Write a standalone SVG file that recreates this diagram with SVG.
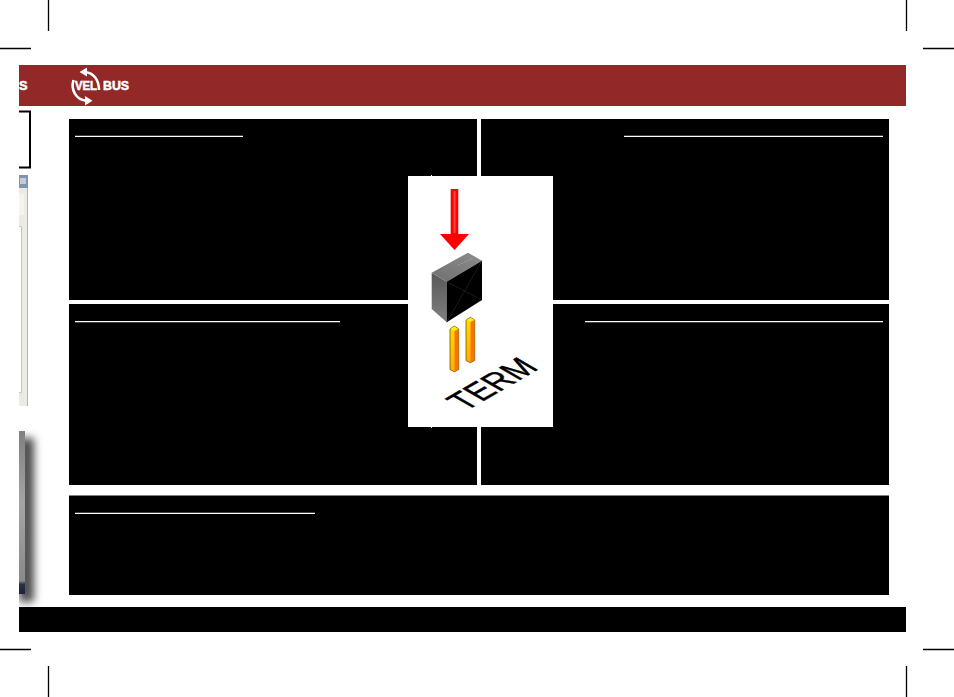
<svg xmlns="http://www.w3.org/2000/svg" width="954" height="697" viewBox="0 0 954 697">
<style>
.crop{stroke:#000;stroke-width:1.3;fill:none}
.panel{fill:#000}
.rule{stroke:#fff;stroke-width:1.300;fill:none}
.logo{font-family:"Liberation Sans",Arial,sans-serif;font-weight:700;font-size:12px;fill:#fff;stroke:#fff;stroke-width:.5}
</style>
<defs>
<clipPath id="pageClip"><rect x="19" y="0" width="887" height="697"/></clipPath>
<filter id="soft" x="-150%" y="-10%" width="400%" height="120%"><feGaussianBlur stdDeviation="4"/></filter>
<linearGradient id="side" x1="0" y1="0" x2="0" y2="1"><stop offset="0" stop-color="#585858"/><stop offset="1" stop-color="#808080"/></linearGradient>
<linearGradient id="top" x1="0" y1="1" x2="1" y2="0"><stop offset="0" stop-color="#707070"/><stop offset="1" stop-color="#8c8c8c"/></linearGradient>
<linearGradient id="strip" x1="0" y1="0" x2="0" y2="1"><stop offset="0" stop-color="#808080"/><stop offset=".45" stop-color="#a4a4a4"/><stop offset=".92" stop-color="#8a8a8a"/><stop offset=".94" stop-color="#2a3048"/><stop offset="1" stop-color="#1c2238"/></linearGradient>
<linearGradient id="pinA" x1="0" y1="0" x2="0" y2="1"><stop offset="0" stop-color="#ffdc00"/><stop offset="1" stop-color="#ffb000"/></linearGradient>
</defs>
<rect width="954" height="697" fill="#fff"/>
<g id="crop-marks">
<path class="crop" d="M0 48.500H31M48.500 0V31M906.500 0V31M923 48.500H954M0 649.500H31M48.500 666V697M906.500 666V697M923 649.500H954"/>
</g>
<g id="page-edge" clip-path="url(#pageClip)">
<rect x="19" y="175" width="8.500" height="231" fill="#ecebe3"/>
<rect x="27" y="175" width="1" height="231" fill="#a9b4c6"/>
<rect x="19" y="175" width="9" height="13" fill="#7f95b8"/>
<rect x="20" y="178" width="6" height="6" fill="#c8ccd0"/>
<rect x="19" y="194" width="5" height="21" fill="#f4f3ee"/>
<path d="M19 226.500H21.500V392.500H19" fill="#fff" stroke="#c9c7b9" stroke-width="1"/>
<path d="M19 111.500H30V167.500H19" fill="none" stroke="#000" stroke-width="2"/>
<rect x="19" y="438" width="15" height="164" fill="#4a4a4a" filter="url(#soft)"/>
<rect x="19" y="431" width="6" height="163" fill="url(#strip)"/>
</g>
<g id="header">
<rect x="19" y="65" width="887" height="41" fill="#922828"/>
<text class="logo" x="19" y="90" textLength="8.500" lengthAdjust="spacingAndGlyphs">S</text>
<g id="logo-mark" fill="none" stroke="#fff" stroke-width="2.600">
<path d="M85 72C93 73 99 79 99 90"/>
<path d="M73.500 80C70.500 90 76 99.500 86 100.700"/>
</g>
<path d="M79.500 72L87 67.500V76.500ZM92.500 100.800L85 96V105.500Z" fill="#fff"/>
<text class="logo" x="75" y="90" textLength="22" lengthAdjust="spacingAndGlyphs">VEL</text>
<text class="logo" x="103" y="90" textLength="26" lengthAdjust="spacingAndGlyphs">BUS</text>
</g>
<g id="panel-top-left"><rect class="panel" x="69" y="119" width="408" height="181"/><path class="rule" d="M75 136.300H243"/></g>
<g id="panel-top-right"><rect class="panel" x="481" y="119" width="408" height="181"/><path class="rule" d="M624 136.300H883"/></g>
<g id="panel-mid-left"><rect class="panel" x="69" y="304" width="408" height="181"/><path class="rule" d="M75 321.700H340"/></g>
<g id="panel-mid-right"><rect class="panel" x="481" y="304" width="408" height="181"/><path class="rule" d="M585 321.700H883"/></g>
<g id="panel-bottom"><rect class="panel" x="69" y="495.500" width="820" height="99.500"/><path class="rule" d="M75 513.300H315"/></g>
<rect id="footer" x="19" y="607" width="887" height="25" fill="#000"/>
<g id="jumper">
<rect x="408" y="176" width="145" height="251" fill="#fff"/>
<path d="M431 175h1v1h-1zM431 427h1v1h-1z" fill="#fff"/>
<path d="M450.700 189H458.300V234H469L454.500 250L440 234H450.700Z" fill="#f00"/>
<rect x="453.500" y="191" width="2" height="42" fill="#f44"/>
<path d="M431.700 272.700L446.700 281.700V322.300L431.700 309Z" fill="url(#side)"/>
<path d="M431.700 272.700L468 252.700L482 260.700L446.700 281.700Z" fill="url(#top)"/>
<path d="M446.700 281.700L482 260.700V300L446.700 322.300Z" fill="#000"/>
<path d="M446.700 281.700L482 300M446.700 322.300L482 260.700" stroke="#2a2a2a" stroke-width=".6"/>
<path d="M458 265L474 258" stroke="#aaa" stroke-width=".7" stroke-dasharray="2 1.500"/>
<path d="M450 329L454.300 326L458.700 329V369.500L454.300 371.800L450 369.500Z" fill="url(#pinA)" stroke="#5b3f00" stroke-width=".7"/>
<path d="M454.500 329.500H458.300V369.300L454.500 371.300Z" fill="#ff7000"/>
<path d="M450.500 329L454.300 326.500L458 329L454.300 331Z" fill="#ffee00"/>
<path d="M466 320L470.300 317.300L474.700 320V360.500L470.300 362.800L466 360.500Z" fill="url(#pinA)" stroke="#5b3f00" stroke-width=".7"/>
<path d="M470.500 320.500H474.300V360.300L470.500 362.300Z" fill="#ff7000"/>
<path d="M466.500 320L470.300 317.800L474 320L470.300 322Z" fill="#ffee00"/>
<text transform="matrix(.875 -.505 1.030 .595 465.500 411.500)" font-family="Liberation Sans,Arial,sans-serif" font-size="30" fill="#000" stroke="#000" stroke-width=".4">TERM</text>
</g>
</svg>
